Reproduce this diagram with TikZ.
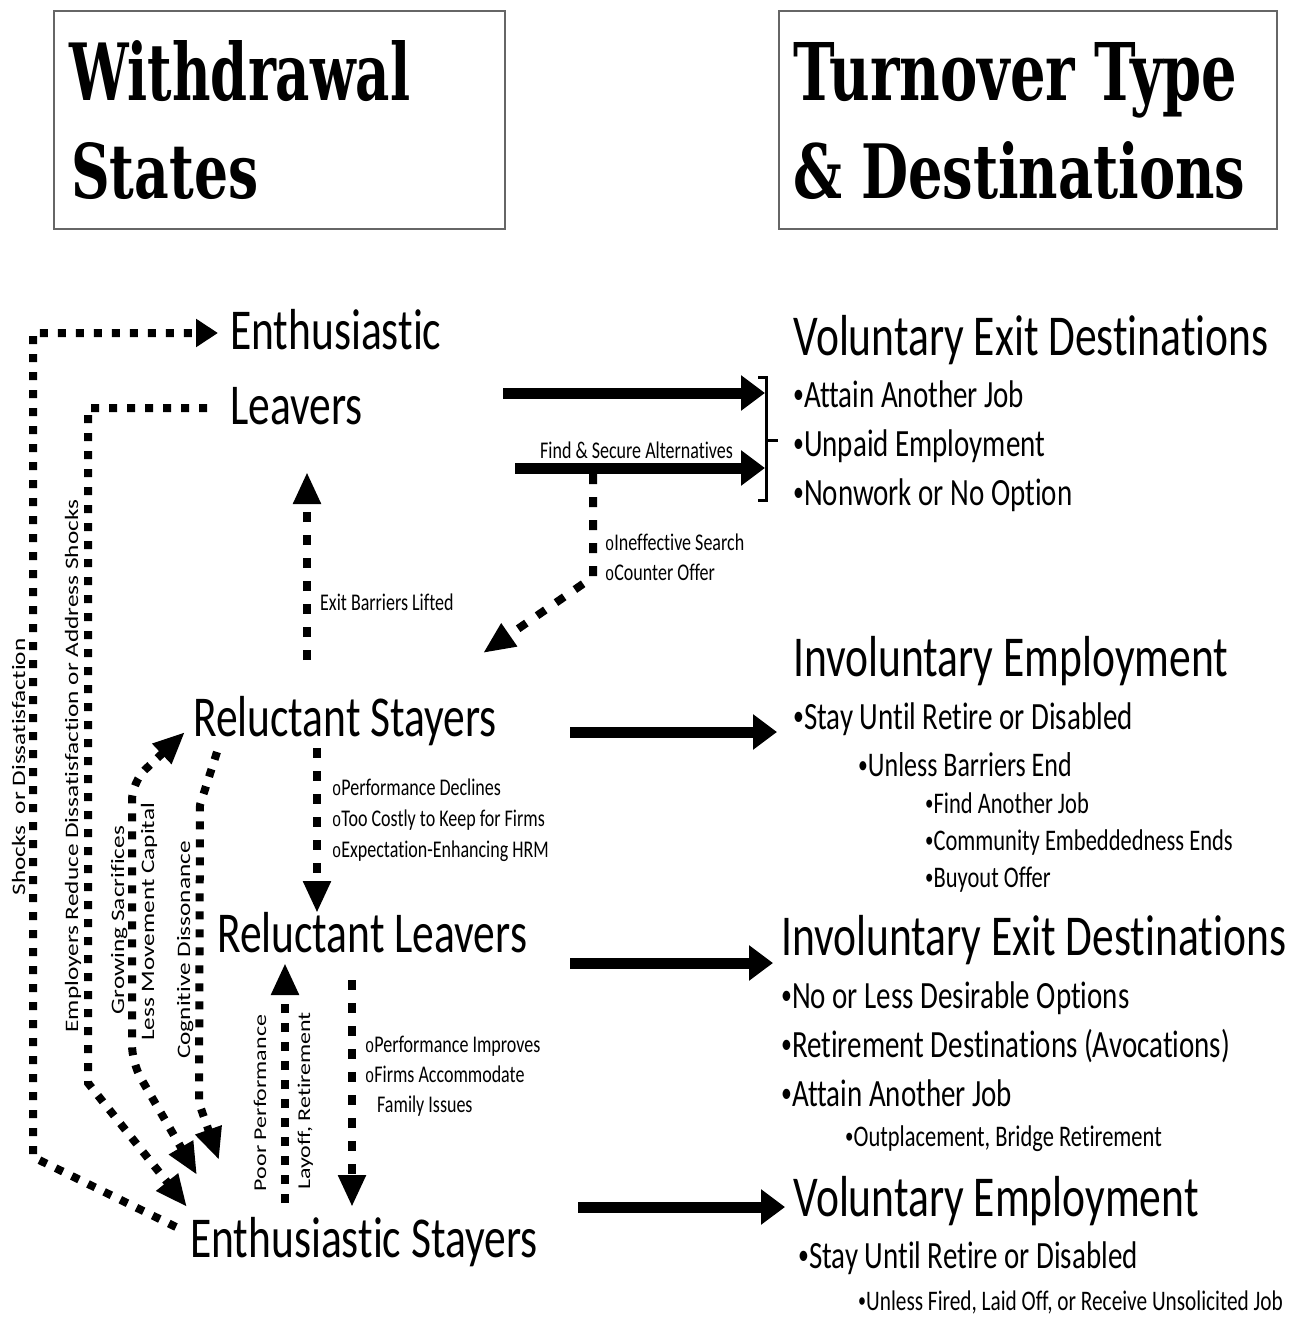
\documentclass[tikz,border=0pt]{standalone}
\usepackage{fontspec}
\usepackage{graphicx}
\setmainfont{Carlito}[Ligatures=NoCommon]
\newfontfamily\slabfont{DejaVu Serif}
\newfontfamily\monobul{Liberation Mono}
\usetikzlibrary{arrows.meta}

% text is set 1.33 times taller than its natural shape
\newcommand{\tallbox}[1]{\scalebox{1}[1.33]{#1}}
\newcommand{\longbox}[1]{\scalebox{1.33}[1]{#1}}
\newcommand{\hbul}{{\monobul\scalebox{0.85}{o}}}
\newcommand{\dbul}{\raisebox{0.08em}{\scalebox{0.75}{•}}}

\tikzset{
  txhead/.style={font=\fontsize{43.5}{50}\selectfont, inner sep=0pt, anchor=base west},
  txitem/.style={font=\fontsize{29}{34}\selectfont, inner sep=0pt, anchor=base west},
  txsub/.style={font=\fontsize{26}{30}\selectfont, inner sep=0pt, anchor=base west},
  txsubsub/.style={font=\fontsize{22.5}{27}\selectfont, inner sep=0pt, anchor=base west},
  txnote/.style={font=\fontsize{18}{22}\selectfont, inner sep=0pt, anchor=base west},
  txside/.style={font=\fontsize{19}{22}\selectfont, inner sep=0pt, anchor=base, rotate=90},
  titletx/.style={inner sep=0pt, anchor=base west},
  titlebox/.style={draw=black!60, line width=2pt},
  bigarrow/.style={line width=11pt, -{Triangle[length=24pt,width=34pt]}},
  sqdots/.style={line width=8pt, dash pattern=on 8pt off 10pt},
  middots/.style={line width=8pt, dash pattern=on 10pt off 13pt},
  dothead/.style={-{Triangle[length=32pt,width=26pt]}},
  bothheads/.style={{Triangle[length=32pt,width=26pt]}-{Triangle[length=32pt,width=26pt]}},
  smallhead/.style={-{Triangle[length=22pt,width=27pt]}},
}

\begin{document}
\begin{tikzpicture}[x=1pt, y=-1pt]
\useasboundingbox (0,0) rectangle (1302,1317);

% ---------- column headings ----------
\draw[titlebox] (54,11) rectangle (505,229);
\draw[titlebox] (779,11) rectangle (1277,229);
\node[titletx] (ws1) at (69,100) {\resizebox{341pt}{60pt}{\slabfont\bfseries Withdrawal}};
\node[titletx] (ws2) at (71,198) {\resizebox{187pt}{56pt}{\slabfont\bfseries States}};
\node[titletx] (td1) at (793,100) {\resizebox{444pt}{58pt}{\slabfont\bfseries Turnover Type}};
\node[titletx] (td2) at (793,198) {\resizebox{452pt}{57pt}{\slabfont\bfseries \& Destinations}};

% ---------- withdrawal states ----------
\node[txhead] (enth)  at (230,349)  {\tallbox{Enthusiastic}};
\node[txhead] (leav)  at (230,424)  {\tallbox{Leavers}};
\node[txhead] (rstay) at (193,736)  {\tallbox{Reluctant Stayers}};
\node[txhead] (rleav) at (217,952)  {\tallbox{Reluctant Leavers}};
\node[txhead] (estay) at (190,1257) {\tallbox{Enthusiastic Stayers}};

% ---------- destinations ----------
\node[txhead] (volx) at (793,355) {\tallbox{Voluntary Exit Destinations}};
\node[txitem] (vx1) at (793,407) {\tallbox{\dbul Attain Another Job}};
\node[txitem] (vx2) at (793,456) {\tallbox{\dbul Unpaid Employment}};
\node[txitem] (vx3) at (793,505) {\tallbox{\dbul Nonwork or No Option}};

\node[txhead] (inve) at (793,676) {\tallbox{Involuntary Employment}};
\node[txitem] (ie1) at (793,729) {\tallbox{\dbul Stay Until Retire or Disabled}};
\node[txsub] (ie2) at (858,776) {\tallbox{\dbul Unless Barriers End}};
\node[txsubsub] (ie3) at (925,813) {\tallbox{\dbul Find Another Job}};
\node[txsubsub] (ie4) at (925,850) {\tallbox{\dbul Community Embeddedness Ends}};
\node[txsubsub] (ie5) at (925,887) {\tallbox{\dbul Buyout Offer}};

\node[txhead] (invx) at (781,955) {\tallbox{Involuntary Exit Destinations}};
\node[txitem] (ix1) at (781,1008) {\tallbox{\dbul No or Less Desirable Options}};
\node[txitem] (ix2) at (781,1057) {\tallbox{\dbul Retirement Destinations (Avocations)}};
\node[txitem] (ix3) at (781,1106) {\tallbox{\dbul Attain Another Job}};
\node[txsubsub] (ix4) at (845,1146) {\tallbox{\dbul Outplacement, Bridge Retirement}};

\node[txhead] (vole) at (793,1216) {\tallbox{Voluntary Employment}};
\node[txitem] (ve1) at (798,1268) {\tallbox{\dbul Stay Until Retire or Disabled}};
\node[txsubsub, font=\fontsize{21.3}{26}\selectfont] (ve2) at (858,1310) {\tallbox{\dbul Unless Fired, Laid Off, or Receive Unsolicited Job}};

% ---------- path labels ----------
\node[txnote] (fsa)   at (540,458) {\tallbox{Find \& Secure Alternatives}};
\node[txnote] (srch1) at (605,550) {\tallbox{\hbul Ineffective Search}};
\node[txnote] (srch2) at (605,580) {\tallbox{\hbul Counter Offer}};
\node[txnote] (ebl)   at (320,610) {\tallbox{Exit Barriers Lifted}};
\node[txnote] (pd1) at (332,795) {\tallbox{\hbul Performance Declines}};
\node[txnote] (pd2) at (332,826) {\tallbox{\hbul Too Costly to Keep for Firms}};
\node[txnote] (pd3) at (332,857) {\tallbox{\hbul Expectation-Enhancing HRM}};
\node[txnote] (pi1) at (365,1052) {\tallbox{\hbul Performance Improves}};
\node[txnote] (pi2) at (365,1082) {\tallbox{\hbul Firms Accommodate}};
\node[txnote] (pi3) at (377,1112) {\tallbox{Family Issues}};

\node[txside] (shk)  at (25,767)  {\longbox{Shocks\ \ or Dissatisfaction}};
\node[txside] (emp)  at (78,766)  {\longbox{Employers Reduce Dissatisfaction or Address Shocks}};
\node[txside] (grw1) at (124,920) {\longbox{Growing Sacrifices}};
\node[txside] (grw2) at (154,922) {\longbox{Less Movement Capital}};
\node[txside] (cog)  at (190,950) {\longbox{Cognitive Dissonance}};
\node[txside, font=\fontsize{18}{22}\selectfont] (ppf) at (266,1103) {\longbox{Poor Performance}};
\node[txside, font=\fontsize{18}{22}\selectfont] (lor) at (310,1101) {\longbox{Layoff, Retirement}};

% ---------- connector end points ----------
\coordinate (leavOut)  at (503,393);
\coordinate (leavIn)   at (765,393);
\coordinate (findOut)  at (515,468);
\coordinate (findIn)   at (765,468);
\coordinate (rsOut)    at (570,732);
\coordinate (rsIn)     at (777,732);
\coordinate (rlOut)    at (570,963);
\coordinate (rlIn)     at (773,963);
\coordinate (esOut)    at (578,1207);
\coordinate (esIn)     at (785,1207);

\coordinate (srchTop)  at (593,474);
\coordinate (srchBend) at (593,577);
\coordinate (srchTip)  at (483,653);
\coordinate (eblBot)   at (307,660);
\coordinate (eblTip)   at (307,472);
\coordinate (pdTop)    at (317,748);
\coordinate (pdTip)    at (317,913);
\coordinate (piTop)    at (352,980);
\coordinate (piTip)    at (352,1207);
\coordinate (ppBot)    at (285,1203);
\coordinate (ppTip)    at (285,963);

\coordinate (shkStart) at (176,1227);
\coordinate (shkBend1) at (33,1157);
\coordinate (shkBend2) at (33,333);
\coordinate (shkTip)   at (218,333);
\coordinate (empStart) at (207,408);
\coordinate (empBend1) at (88,408);
\coordinate (empBend2) at (88,1083);
\coordinate (empTip)   at (187,1207);
\coordinate (grwTip1)  at (185,732);
\coordinate (grwBend1) at (132,782);
\coordinate (grwBend2) at (132,1063);
\coordinate (grwTip2)  at (197,1175);
\coordinate (cogStart) at (217,752);
\coordinate (cogBend1) at (200,805);
\coordinate (cogBend2) at (199,1103);
\coordinate (cogTip)   at (219,1160);

% ---------- solid arrows to destinations ----------
\draw[bigarrow] (leavOut) -- (leavIn);
\draw[bigarrow] (findOut) -- (findIn);
\draw[bigarrow] (rsOut) -- (rsIn);
\draw[bigarrow] (rlOut) -- (rlIn);
\draw[bigarrow] (esOut) -- (esIn);

% bracket gathering the voluntary exits
\coordinate (brTop) at (766,377);
\coordinate (brBot) at (766,500);
\coordinate (brMid) at (766,440);
\coordinate (brTick) at (778,440);
\draw[line width=3pt] ([xshift=-8pt]brTop) -- (brTop) -- (brBot) -- ([xshift=-8pt]brBot);
\draw[line width=3pt] (brMid) -- (brTick);

% ---------- dotted transitions ----------
\draw[middots, dothead] (srchTop) -- (srchBend) -- (srchTip);
\draw[middots, dothead] (eblBot) -- (eblTip);
\draw[middots, dothead] (pdTop) -- (pdTip);
\draw[middots, dothead] (piTop) -- (piTip);
\draw[sqdots, dash pattern=on 9pt off 10pt, dothead] (ppBot) -- (ppTip);

\draw[sqdots, smallhead] (shkStart) -- (shkBend1) -- (shkBend2) -- (shkTip);
\draw[sqdots, dothead] (empStart) -- (empBend1) -- (empBend2) -- (empTip);
\draw[sqdots, bothheads, rounded corners=18pt] (grwTip1) -- (grwBend1) -- (grwBend2) -- (grwTip2);
\draw[sqdots, dothead] (cogStart) -- (cogBend1) -- (cogBend2) -- (cogTip);
\end{tikzpicture}
\end{document}
